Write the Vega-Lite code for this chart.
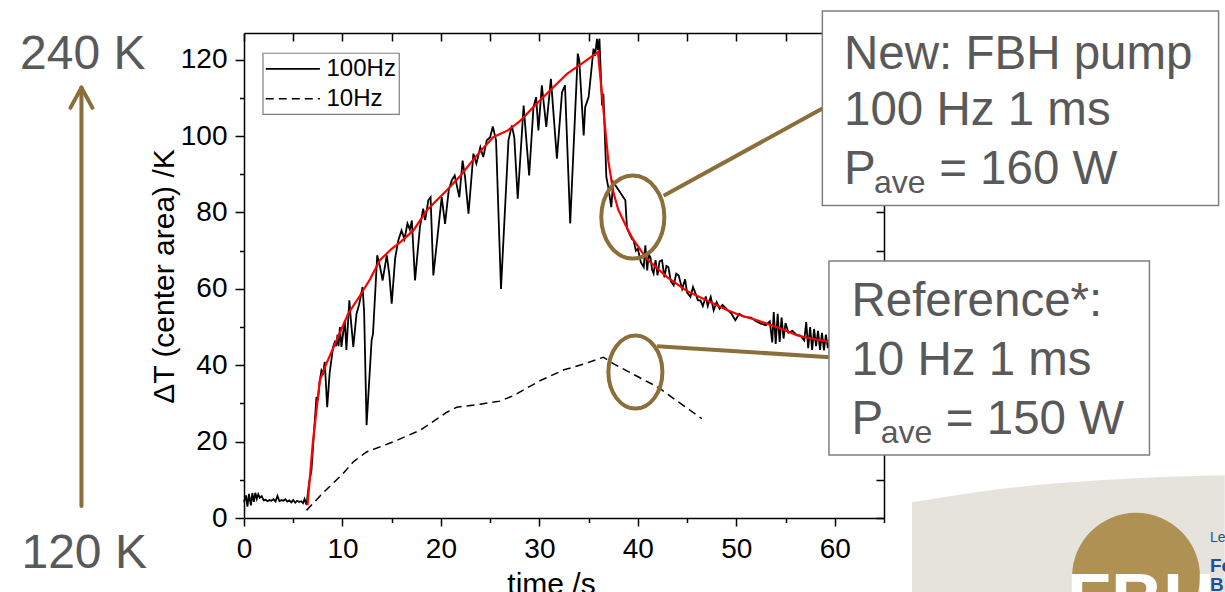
{
"$schema": "https://vega.github.io/schema/vega-lite/v6.json",
"width": 640, "height": 485,
"autosize": {"type": "none"},
"padding": {"left": 244, "top": 33, "right": 341, "bottom": 74},
"background": "white",
"config": {"view": {"stroke": null}, "font": "Liberation Sans"},
"datasets": {
"hz100": [
{"t":0,"v":4.2},{"t":0.2,"v":5.9},{"t":0.35,"v":3.0},{"t":0.5,"v":6.3},{"t":0.7,"v":3.3},{"t":0.85,"v":6.5},{"t":1.0,"v":4.2},{"t":1.15,"v":6.6},{"t":1.3,"v":5.0},{"t":1.45,"v":6.2},{"t":1.6,"v":5.3},{"t":1.8,"v":5.7},{"t":2.0,"v":4.6},{"t":2.2,"v":4.8},{"t":2.4,"v":4.4},{"t":2.6,"v":4.7},{"t":2.8,"v":4.5},{"t":3.0,"v":4.9},{"t":3.2,"v":4.3},{"t":3.4,"v":5.8},{"t":3.6,"v":4.4},{"t":3.8,"v":4.7},{"t":4.0,"v":4.5},{"t":4.2,"v":4.9},{"t":4.4,"v":4.3},{"t":4.6,"v":4.6},{"t":4.8,"v":4.1},{"t":5.0,"v":4.7},{"t":5.2,"v":4.0},{"t":5.4,"v":4.5},{"t":5.6,"v":4.2},{"t":5.8,"v":4.4},{"t":6.0,"v":3.9},{"t":6.15,"v":5.0},{"t":6.35,"v":3.5},
{"t":6.6,"v":9},{"t":6.85,"v":12.5},{"t":7.1,"v":22},{"t":7.36,"v":31.7},{"t":7.5,"v":30.8},{"t":7.7,"v":36},{"t":7.87,"v":38.7},{"t":8.05,"v":38},{"t":8.2,"v":40.9},{"t":8.45,"v":29},{"t":8.7,"v":38},{"t":9.05,"v":44.8},{"t":9.2,"v":46},{"t":9.35,"v":45},{"t":9.5,"v":48},{"t":9.6,"v":45},{"t":9.74,"v":50},{"t":9.9,"v":44.8},{"t":10.05,"v":48},{"t":10.24,"v":51.7},{"t":10.4,"v":44},{"t":10.7,"v":57},{"t":10.85,"v":52},{"t":11.1,"v":44.8},{"t":11.43,"v":53.5},{"t":11.7,"v":56},{"t":12.04,"v":60.5},{"t":12.2,"v":54},{"t":12.45,"v":24.3},{"t":12.96,"v":46.5},{"t":13.1,"v":48.2},{"t":13.53,"v":68.8},{"t":13.8,"v":66},{"t":14.08,"v":62.2},{"t":14.5,"v":68.8},{"t":14.75,"v":64},{"t":15.0,"v":56.1},{"t":15.35,"v":68},{"t":15.67,"v":72.7},{"t":16.0,"v":75.3},{"t":16.3,"v":73},{"t":16.6,"v":77.1},{"t":16.85,"v":75.5},{"t":17.05,"v":77.9},{"t":17.37,"v":62.2},{"t":17.87,"v":76.2},{"t":18.2,"v":81},{"t":18.4,"v":78},{"t":18.72,"v":83.2},{"t":18.95,"v":84},{"t":19.23,"v":63.5},{"t":20.08,"v":84},{"t":20.42,"v":77},{"t":20.8,"v":86},{"t":21.1,"v":88.4},{"t":21.4,"v":89.7},{"t":21.87,"v":84},{"t":22.2,"v":93.6},{"t":22.45,"v":89.3},{"t":22.8,"v":79.7},{"t":23.3,"v":95.4},{"t":23.6,"v":92.8},{"t":24.0,"v":97.1},{"t":24.3,"v":94.5},{"t":24.66,"v":98.9},{"t":25.0,"v":99.7},{"t":25.27,"v":102.5},{"t":25.6,"v":98.9},{"t":26.1,"v":60},{"t":26.86,"v":98.9},{"t":27.2,"v":102.8},{"t":27.45,"v":99.7},{"t":27.8,"v":83.6},{"t":28.4,"v":108},{"t":28.96,"v":89.7},{"t":29.4,"v":107.6},{"t":29.67,"v":110.2},{"t":29.9,"v":101.5},{"t":30.25,"v":113.3},{"t":30.7,"v":102.4},{"t":31.17,"v":115},{"t":31.78,"v":94.1},{"t":32.3,"v":111.5},{"t":32.6,"v":113.3},{"t":33.13,"v":77.1},{"t":33.9,"v":121.6},{"t":34.05,"v":119.8},{"t":34.5,"v":100.2},{"t":34.65,"v":107.6},{"t":35.0,"v":110.2},{"t":35.5,"v":122.9},{"t":35.65,"v":121},{"t":35.85,"v":125.5},{"t":35.95,"v":122.5},{"t":36.1,"v":125.5},{"t":36.36,"v":108},{"t":36.5,"v":111.1},{"t":36.8,"v":89.3},{"t":37.0,"v":86.6},{"t":37.3,"v":81.4},{"t":37.5,"v":88},{"t":38.73,"v":83.2},{"t":38.9,"v":75.8},{"t":39.4,"v":73.1},{"t":39.57,"v":72.7},{"t":39.8,"v":70},{"t":40.0,"v":70.5},{"t":40.3,"v":67},{"t":40.6,"v":65.7},{"t":40.76,"v":71.4},{"t":40.95,"v":64.8},{"t":41.1,"v":69},{"t":41.27,"v":68.3},{"t":41.45,"v":65},{"t":41.6,"v":64},{"t":41.8,"v":67.5},{"t":42.0,"v":63.5},{"t":42.2,"v":67.2},{"t":42.46,"v":67.5},{"t":42.7,"v":63},{"t":42.9,"v":66},{"t":43.1,"v":65.7},{"t":43.35,"v":62},{"t":43.64,"v":60.9},{"t":43.9,"v":64},{"t":44.15,"v":63.5},{"t":44.5,"v":60},{"t":44.8,"v":62.5},{"t":45.0,"v":59},{"t":45.34,"v":57.9},{"t":45.6,"v":60.5},{"t":45.9,"v":58.5},{"t":46.1,"v":57},{"t":46.36,"v":57},{"t":46.6,"v":55.5},{"t":46.9,"v":58},{"t":47.1,"v":55.5},{"t":47.4,"v":57.9},{"t":47.7,"v":54.4},{"t":48.0,"v":56.5},{"t":48.3,"v":54.8},{"t":48.6,"v":55.8},{"t":49.1,"v":54.5},{"t":49.5,"v":53.5},{"t":49.9,"v":51.8},{"t":50.3,"v":53.5},{"t":50.7,"v":52.8},{"t":51.1,"v":52.6},{"t":51.5,"v":52.5},{"t":52.0,"v":51.5},{"t":52.5,"v":50.9},{"t":53.0,"v":50.5},{"t":53.4,"v":51.5},{"t":53.65,"v":46},{"t":53.8,"v":53.9},{"t":54.0,"v":45.6},{"t":54.2,"v":53.5},{"t":54.4,"v":46.1},{"t":54.6,"v":52.5},{"t":54.8,"v":47},{"t":55.0,"v":51},{"t":55.3,"v":48.5},{"t":55.7,"v":49},{"t":56.1,"v":48},{"t":56.5,"v":47.8},{"t":56.9,"v":46.5},{"t":57.1,"v":51.3},{"t":57.3,"v":44.5},{"t":57.5,"v":50},{"t":57.7,"v":44},{"t":57.9,"v":49.5},{"t":58.1,"v":45},{"t":58.3,"v":49},{"t":58.5,"v":44},{"t":58.7,"v":48.5},{"t":58.9,"v":43.9},{"t":59.1,"v":48},{"t":59.3,"v":44.5},{"t":59.5,"v":47}
],
"fit": [
{"t":6.45,"v":3.3},{"t":7.0,"v":20},{"t":7.7,"v":36},{"t":8.38,"v":40.5},{"t":9.4,"v":46.5},{"t":10.58,"v":53.5},{"t":11.77,"v":58.2},{"t":12.8,"v":62.5},{"t":13.8,"v":67.5},{"t":15.0,"v":70.5},{"t":16.0,"v":72.5},{"t":17.2,"v":75.3},{"t":18.55,"v":80.5},{"t":19.5,"v":83},{"t":20.6,"v":85.8},{"t":22.0,"v":89.7},{"t":22.96,"v":92.8},{"t":24.0,"v":96},{"t":25.3,"v":99.7},{"t":26.8,"v":101.5},{"t":28.05,"v":104},{"t":29.4,"v":107.6},{"t":31.1,"v":112},{"t":32.8,"v":116.3},{"t":34.3,"v":119},{"t":35.95,"v":122},{"t":36.5,"v":107},{"t":37.0,"v":93.5},{"t":37.5,"v":85.5},{"t":38.0,"v":80.8},{"t":38.7,"v":77},{"t":39.5,"v":73},{"t":40.9,"v":67.9},{"t":42.97,"v":63.1},{"t":45.0,"v":59.4},{"t":47.4,"v":56.5},{"t":49.1,"v":54.4},{"t":50.4,"v":53.1},{"t":52.1,"v":51.8},{"t":54.5,"v":49.6},{"t":56.2,"v":47.8},{"t":58.0,"v":46.8},{"t":59.4,"v":46.1}
],
"hz10": [
{"t":6.35,"v":2},{"t":8,"v":6.5},{"t":10,"v":11.5},{"t":11.1,"v":14.7},{"t":12.45,"v":17.3},{"t":14,"v":18.8},{"t":15.5,"v":20.3},{"t":17.9,"v":23},{"t":20.6,"v":27.7},{"t":21.6,"v":29},{"t":24,"v":29.8},{"t":26,"v":30.6},{"t":27.4,"v":32.1},{"t":30.1,"v":36},{"t":32.5,"v":38.8},{"t":34.5,"v":40.3},{"t":36.5,"v":42.1},{"t":37.5,"v":40.4},{"t":42,"v":34.3},{"t":46.5,"v":26}
],
"boxes": [{"x1":58.74,"x2":98.98,"y1":132.75,"y2":81.8},{"x1":59.41,"x2":91.96,"y1":67.3,"y2":16.5}],
"legendBox": [{"x1":1.93,"x2":15.77,"y1":121.7,"y2":105.7}],
"legendSolid": [{"x1":2.21,"x2":7.71,"y":117.6}],
"legendDash": [{"x1":2.21,"x2":7.71,"y":109.8}],
"legendText": [{"x":8.38,"y":117.6,"label":"100Hz"},{"x":8.38,"y":109.8,"label":"10Hz"}],
"connectors": [{"x1":42.62,"y1":84.4,"x2":58.74,"y2":107.2},{"x1":41.95,"y1":45.0,"x2":59.51,"y2":42.1}],
"arrow": [{"x1":-16.51,"y1":3.14,"x2":-16.51,"y2":112.6},{"x1":-17.63,"y1":107.4,"x2":-16.51,"y2":112.7},{"x1":-15.39,"y1":107.4,"x2":-16.51,"y2":112.7}],
"ell1": [{"x":39.49,"y":78.8}],
"ell2": [{"x":39.75,"y":38.2}],
"bigText": [{"x":60.94,"y":117.7,"label":"New: FBH pump"},{"x":60.94,"y":102.8,"label":"100 Hz 1 ms"},{"x":60.94,"y":87.4,"label":"P"},{"x":70.6,"y":87.4,"label":"= 160 W"},{"x":61.69,"y":52.8,"label":"Reference*:"},{"x":61.69,"y":37.4,"label":"10 Hz 1 ms"},{"x":61.69,"y":21.9,"label":"P"},{"x":71.28,"y":21.9,"label":"= 150 W"}],
"subText": [{"x":63.99,"y":85.0,"label":"ave"},{"x":64.67,"y":19.6,"label":"ave"}],
"sideText": [{"x":-22.75,"y":117.7,"label":"240 K"},{"x":-22.6,"y":-13.2,"label":"120 K"}],
"logoBg": [{"x":67.85,"y":4.1},{"x":76.8,"y":7.6},{"x":86.9,"y":9.9},{"x":99.6,"y":11.2}],
"logoCircle": [{"x":90.6,"y":-15.4}],
"logoLetters": [{"x":91.1,"y":-27.8,"label":"FBH"}],
"logoSmall": [{"x":98.1,"y":-6.3,"label":"Leibniz-Institut für"}],
"logoBold": [{"x":98.1,"y":-14.1,"label":"Ferdinand-"},{"x":98.1,"y":-19.1,"label":"Braun-Institut"}]
},
"resolve": {"axis": {"x": "independent", "y": "independent"}},
"layer": [
{
"data": {"name": "hz100"},
"mark": {"type": "line", "color": "black", "strokeWidth": 1.8, "strokeJoin": "miter"},
"encoding": {
"x": {"field": "t", "type": "quantitative", "scale": {"domain": [0, 65], "nice": false, "zero": false},
"axis": {"orient": "bottom", "values": [0,10,20,30,40,50,60], "tickSize": 8, "tickWidth": 1.5, "tickColor": "black", "domainColor": "black", "domainWidth": 1.5, "labelFont": "Liberation Sans", "labelFontSize": 28, "labelColor": "black", "labelPadding": 9, "labelFlush": false, "labelOverlap": false, "grid": false, "title": "time /s", "titleFont": "Liberation Sans", "titleFontSize": 30, "titleFontWeight": "normal", "titleColor": "black", "titleX": 307, "titleY": 75, "titleBaseline": "alphabetic", "titleAlign": "center"}},
"y": {"field": "v", "type": "quantitative", "scale": {"domain": [0, 127], "nice": false, "zero": false},
"axis": {"orient": "left", "values": [0,20,40,60,80,100,120], "tickSize": 9, "tickWidth": 1.5, "tickColor": "black", "domainColor": "black", "domainWidth": 1.5, "labelFont": "Liberation Sans", "labelFontSize": 28, "labelColor": "black", "labelPadding": 8, "labelFlush": false, "labelOverlap": false, "grid": false, "title": "ΔT (center area) /K", "titleFont": "Liberation Sans", "titleFontSize": 30, "titleFontWeight": "normal", "titleColor": "black", "titleAngle": -90, "titleX": -71, "titleY": 243, "titleBaseline": "alphabetic", "titleAlign": "center"}}
}
},
{
"data": {"name": "fit"},
"mark": {"type": "line", "color": "#ff0000", "strokeWidth": 2.2},
"encoding": {
"x": {"field": "t", "type": "quantitative", "scale": {"domain": [0, 65], "nice": false, "zero": false},
"axis": {"orient": "top", "values": [0,5,10,15,20,25,30,35,40,45,50,55,60,65], "tickSize": -8, "tickWidth": 1.5, "tickColor": "black", "domainColor": "black", "domainWidth": 1.5, "labels": false, "grid": false, "title": null}},
"y": {"field": "v", "type": "quantitative", "scale": {"domain": [0, 127], "nice": false, "zero": false},
"axis": {"orient": "right", "values": [0,10,20,30,40,50,60,70,80,90,100,110,120], "tickSize": -8, "tickWidth": 1.5, "tickColor": "black", "domainColor": "black", "domainWidth": 1.5, "labels": false, "grid": false, "title": null}}
}
},
{
"data": {"name": "hz10"},
"mark": {"type": "line", "color": "black", "strokeWidth": 1.5, "strokeDash": [8, 5]},
"encoding": {
"x": {"field": "t", "type": "quantitative", "scale": {"domain": [0, 65], "nice": false, "zero": false},
"axis": {"orient": "bottom", "values": [5,15,25,35,45,55,65], "tickSize": 4.5, "tickWidth": 1.5, "tickColor": "black", "domain": false, "labels": false, "grid": false, "title": null}},
"y": {"field": "v", "type": "quantitative", "scale": {"domain": [0, 127], "nice": false, "zero": false},
"axis": {"orient": "left", "values": [10,30,50,70,90,110], "tickSize": 4.5, "tickWidth": 1.5, "tickColor": "black", "domain": false, "labels": false, "grid": false, "title": null}}
}
},
{
"data": {"name": "legendBox"},
"mark": {"type": "rect", "fill": "white", "stroke": "#808080", "strokeWidth": 1.2},
"encoding": {
"x": {"field": "x1", "type": "quantitative", "scale": {"domain": [0, 65], "nice": false, "zero": false}, "axis": null},
"x2": {"field": "x2"},
"y": {"field": "y1", "type": "quantitative", "scale": {"domain": [0, 127], "nice": false, "zero": false}, "axis": null},
"y2": {"field": "y2"}
}
},
{
"data": {"name": "legendSolid"},
"mark": {"type": "rule", "color": "black", "strokeWidth": 1.6},
"encoding": {
"x": {"field": "x1", "type": "quantitative", "scale": {"domain": [0, 65], "nice": false, "zero": false}, "axis": null},
"x2": {"field": "x2"},
"y": {"field": "y", "type": "quantitative", "scale": {"domain": [0, 127], "nice": false, "zero": false}, "axis": null}
}
},
{
"data": {"name": "legendDash"},
"mark": {"type": "rule", "color": "black", "strokeWidth": 1.5, "strokeDash": [8, 5]},
"encoding": {
"x": {"field": "x1", "type": "quantitative", "scale": {"domain": [0, 65], "nice": false, "zero": false}, "axis": null},
"x2": {"field": "x2"},
"y": {"field": "y", "type": "quantitative", "scale": {"domain": [0, 127], "nice": false, "zero": false}, "axis": null}
}
},
{
"data": {"name": "legendText"},
"mark": {"type": "text", "align": "left", "baseline": "middle", "font": "Liberation Sans", "fontSize": 24, "fill": "black"},
"encoding": {
"x": {"field": "x", "type": "quantitative", "scale": {"domain": [0, 65], "nice": false, "zero": false}, "axis": null},
"y": {"field": "y", "type": "quantitative", "scale": {"domain": [0, 127], "nice": false, "zero": false}, "axis": null},
"text": {"field": "label"}
}
},
{
"data": {"name": "ell1"},
"mark": {"type": "point", "shape": "M -0.76 0 A 0.76 1 0 1 1 0.76 0 A 0.76 1 0 1 1 -0.76 0 Z", "size": 6889, "filled": false, "stroke": "#8B6F3A", "strokeWidth": 4, "opacity": 1},
"encoding": {
"x": {"field": "x", "type": "quantitative", "scale": {"domain": [0, 65], "nice": false, "zero": false}, "axis": null},
"y": {"field": "y", "type": "quantitative", "scale": {"domain": [0, 127], "nice": false, "zero": false}, "axis": null}
}
},
{
"data": {"name": "ell2"},
"mark": {"type": "point", "shape": "M -0.74 0 A 0.74 1 0 1 1 0.74 0 A 0.74 1 0 1 1 -0.74 0 Z", "size": 5329, "filled": false, "stroke": "#8B6F3A", "strokeWidth": 4, "opacity": 1},
"encoding": {
"x": {"field": "x", "type": "quantitative", "scale": {"domain": [0, 65], "nice": false, "zero": false}, "axis": null},
"y": {"field": "y", "type": "quantitative", "scale": {"domain": [0, 127], "nice": false, "zero": false}, "axis": null}
}
},
{
"data": {"name": "connectors"},
"mark": {"type": "rule", "color": "#8B6F3A", "strokeWidth": 4},
"encoding": {
"x": {"field": "x1", "type": "quantitative", "scale": {"domain": [0, 65], "nice": false, "zero": false}, "axis": null},
"x2": {"field": "x2"},
"y": {"field": "y1", "type": "quantitative", "scale": {"domain": [0, 127], "nice": false, "zero": false}, "axis": null},
"y2": {"field": "y2"}
}
},
{
"data": {"name": "arrow"},
"mark": {"type": "rule", "color": "#8B6F3A", "strokeWidth": 4, "strokeCap": "round"},
"encoding": {
"x": {"field": "x1", "type": "quantitative", "scale": {"domain": [0, 65], "nice": false, "zero": false}, "axis": null},
"x2": {"field": "x2"},
"y": {"field": "y1", "type": "quantitative", "scale": {"domain": [0, 127], "nice": false, "zero": false}, "axis": null},
"y2": {"field": "y2"}
}
},
{
"data": {"name": "boxes"},
"mark": {"type": "rect", "fill": "white", "stroke": "#7f7f7f", "strokeWidth": 1.5},
"encoding": {
"x": {"field": "x1", "type": "quantitative", "scale": {"domain": [0, 65], "nice": false, "zero": false}, "axis": null},
"x2": {"field": "x2"},
"y": {"field": "y1", "type": "quantitative", "scale": {"domain": [0, 127], "nice": false, "zero": false}, "axis": null},
"y2": {"field": "y2"}
}
},
{
"data": {"name": "bigText"},
"mark": {"type": "text", "align": "left", "baseline": "alphabetic", "font": "Liberation Sans", "fontSize": 47.5, "fill": "#595959"},
"encoding": {
"x": {"field": "x", "type": "quantitative", "scale": {"domain": [0, 65], "nice": false, "zero": false}, "axis": null},
"y": {"field": "y", "type": "quantitative", "scale": {"domain": [0, 127], "nice": false, "zero": false}, "axis": null},
"text": {"field": "label"}
}
},
{
"data": {"name": "subText"},
"mark": {"type": "text", "align": "left", "baseline": "alphabetic", "font": "Liberation Sans", "fontSize": 32, "fill": "#595959"},
"encoding": {
"x": {"field": "x", "type": "quantitative", "scale": {"domain": [0, 65], "nice": false, "zero": false}, "axis": null},
"y": {"field": "y", "type": "quantitative", "scale": {"domain": [0, 127], "nice": false, "zero": false}, "axis": null},
"text": {"field": "label"}
}
},
{
"data": {"name": "sideText"},
"mark": {"type": "text", "align": "left", "baseline": "alphabetic", "font": "Liberation Sans", "fontSize": 48, "fill": "#595959"},
"encoding": {
"x": {"field": "x", "type": "quantitative", "scale": {"domain": [0, 65], "nice": false, "zero": false}, "axis": null},
"y": {"field": "y", "type": "quantitative", "scale": {"domain": [0, 127], "nice": false, "zero": false}, "axis": null},
"text": {"field": "label"}
}
},
{
"data": {"name": "logoBg"},
"mark": {"type": "area", "fill": "#e6e3dc", "interpolate": "monotone", "opacity": 1},
"encoding": {
"x": {"field": "x", "type": "quantitative", "scale": {"domain": [0, 65], "nice": false, "zero": false}, "axis": null},
"y": {"field": "y", "type": "quantitative", "scale": {"domain": [0, 127], "nice": false, "zero": false}, "axis": null},
"y2": {"datum": -20}
}
},
{
"data": {"name": "logoCircle"},
"mark": {"type": "point", "shape": "circle", "size": 16384, "filled": true, "fill": "#ae9153", "opacity": 1, "strokeWidth": 0},
"encoding": {
"x": {"field": "x", "type": "quantitative", "scale": {"domain": [0, 65], "nice": false, "zero": false}, "axis": null},
"y": {"field": "y", "type": "quantitative", "scale": {"domain": [0, 127], "nice": false, "zero": false}, "axis": null}
}
},
{
"data": {"name": "logoLetters"},
"mark": {"type": "text", "align": "center", "baseline": "alphabetic", "font": "Liberation Sans", "fontWeight": "bold", "fontSize": 72, "fill": "white"},
"encoding": {
"x": {"field": "x", "type": "quantitative", "scale": {"domain": [0, 65], "nice": false, "zero": false}, "axis": null},
"y": {"field": "y", "type": "quantitative", "scale": {"domain": [0, 127], "nice": false, "zero": false}, "axis": null},
"text": {"field": "label"}
}
},
{
"data": {"name": "logoSmall"},
"mark": {"type": "text", "align": "left", "baseline": "alphabetic", "font": "Liberation Sans", "fontSize": 14, "fill": "#1d4f9c"},
"encoding": {
"x": {"field": "x", "type": "quantitative", "scale": {"domain": [0, 65], "nice": false, "zero": false}, "axis": null},
"y": {"field": "y", "type": "quantitative", "scale": {"domain": [0, 127], "nice": false, "zero": false}, "axis": null},
"text": {"field": "label"}
}
},
{
"data": {"name": "logoBold"},
"mark": {"type": "text", "align": "left", "baseline": "alphabetic", "font": "Liberation Sans", "fontWeight": "bold", "fontSize": 19, "fill": "#1d4f9c"},
"encoding": {
"x": {"field": "x", "type": "quantitative", "scale": {"domain": [0, 65], "nice": false, "zero": false}, "axis": null},
"y": {"field": "y", "type": "quantitative", "scale": {"domain": [0, 127], "nice": false, "zero": false}, "axis": null},
"text": {"field": "label"}
}
}
]
}
